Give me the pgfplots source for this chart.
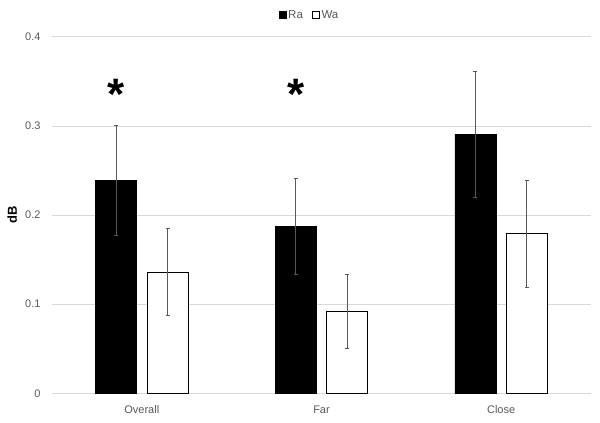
\documentclass[border=0pt]{standalone}
\usepackage{pgfplots}
\pgfplotsset{compat=1.18}
\usepackage{fontspec}
\setmainfont{Liberation Sans}
\definecolor{gridc}{HTML}{D9D9D9}
\definecolor{txt}{HTML}{595959}
\definecolor{errc}{HTML}{595959}
\begin{document}
\begin{tikzpicture}
\path[use as bounding box] (-52pt,-29.7pt) rectangle (548pt,393.3pt);
\begin{axis}[
  scale only axis,
  width=539pt, height=356.4pt,
  xmin=-0.5, xmax=2.5,
  ymin=0, ymax=0.4,
  ytick={0,0.1,0.2,0.3,0.4},
  yticklabels={0,0.1,0.2,0.3,0.4},
  xtick={0,1,2},
  xticklabels={Overall,Far,Close},
  major tick length=0pt,
  ymajorgrids,
  grid style={gridc, line width=0.8pt},
  axis line style={draw=none},
  tick label style={font=\fontsize{11}{13}\selectfont, text=txt},
  /pgf/number format/assume math mode=true,
  yticklabel style={xshift=-8pt},
  xticklabel style={yshift=-9pt},
  ylabel={\textbf{dB}},
  ylabel style={font=\fontsize{13}{15}\selectfont, at={(axis description cs:-0.074,0.5)}, anchor=center},
  legend columns=2,
  legend style={draw=none, at={(axis description cs:0.5,1)}, anchor=center, yshift=22pt, xshift=-12pt,
    font=\fontsize{11.5}{13}\selectfont, text=txt,
    /tikz/every even column/.append style={column sep=7pt}},
  legend image code/.code={\draw[#1, line width=0.6pt] (0pt,-3.5pt) rectangle (7pt,3.5pt);},
]
\addplot[ybar, bar width=41pt, bar shift=0pt, fill=black, draw=black,
  error bars/.cd, y dir=both, y explicit,
  error bar style={errc, line width=0.8pt},
  error mark options={rotate=90, mark size=2pt, errc, line width=0.6pt}]
  coordinates {(-0.143,0.239) +- (0,0.0615) (0.857,0.187) +- (0,0.054) (1.857,0.291) +- (0,0.0707)};
\addlegendentry{Ra}
\addplot[ybar, bar width=41pt, bar shift=0pt, fill=white, draw=black, line width=0.8pt,
  error bars/.cd, y dir=both, y explicit,
  error bar style={errc, line width=0.8pt},
  error mark options={rotate=90, mark size=2pt, errc, line width=0.6pt}]
  coordinates {(0.143,0.136) +- (0,0.049) (1.143,0.092) +- (0,0.041) (2.143,0.179) +- (0,0.060)};
\addlegendentry{Wa}
\node[font=\fontsize{44}{44}\selectfont\bfseries, inner sep=0pt] at (axis cs:-0.143,0.344) [yshift=-8pt] {*};
\node[font=\fontsize{44}{44}\selectfont\bfseries, inner sep=0pt] at (axis cs:0.857,0.344) [yshift=-8pt] {*};
\end{axis}
\end{tikzpicture}
\end{document}
